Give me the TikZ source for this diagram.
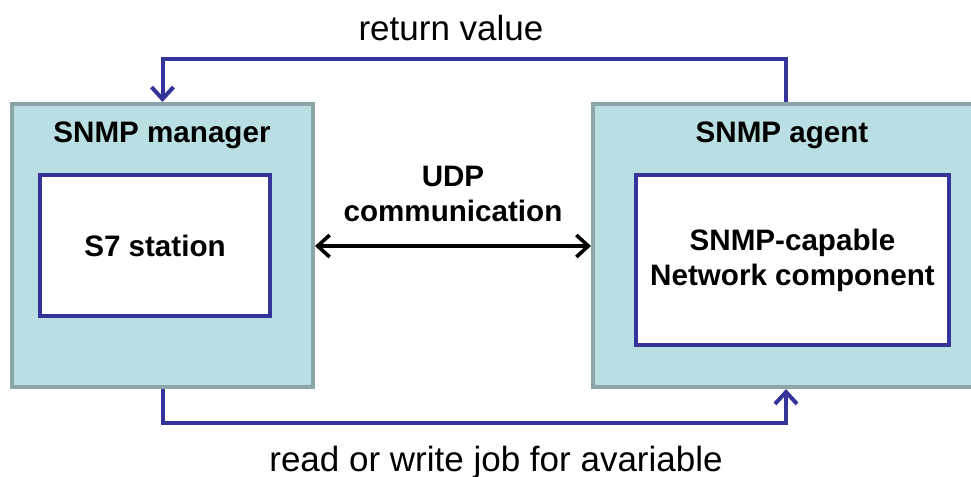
\documentclass[tikz,border=0pt]{standalone}
\usepackage{fontspec}
\setmainfont{Liberation Sans}
\usetikzlibrary{arrows.meta}
\definecolor{boxfill}{HTML}{B9DFE2}
\definecolor{boxline}{HTML}{8BA6A8}
\definecolor{navy}{HTML}{333399}
\newcommand{\boldsz}{\fontsize{14.8}{17.5}\selectfont\bfseries}
\newcommand{\plainsz}{\fontsize{17.5}{20}\selectfont}
\tikzset{
  outerbox/.style={draw=boxline,fill=boxfill,line width=2pt,minimum height=141.5pt},
  innerbox/.style={draw=navy,fill=white,line width=2pt,font=\boldsz,align=center},
  flow/.style={draw=navy,line width=2pt,-{Straight Barb[length=6pt,width=11pt,line width=2pt]}},
  udp/.style={draw=black,line width=1.8pt,{Straight Barb[length=6pt,width=11pt]}-{Straight Barb[length=6pt,width=11pt]}},
  title/.style={font=\boldsz,align=center},
  txt/.style={font=\plainsz,align=center}
}
\begin{document}
\begin{tikzpicture}[x=0.5pt,y=-0.5pt]
    \useasboundingbox (0,0) rectangle (971,477);

    % manager side
    \node[outerbox,minimum width=150.5pt] (mgr) at (162.5,245.5) {};
    \node[title] (mgrtitle) at (162,135) {SNMP manager};
    \node[innerbox,minimum width=115pt,minimum height=70.5pt] (s7) at (155,245.5) {S7 station};

    % agent side
    \node[outerbox,minimum width=196pt] (agt) at (789,245.5) {};
    \node[title] (agttitle) at (782,135) {SNMP agent};
    \node[innerbox,minimum width=156.5pt,minimum height=85pt] (net) at (792.5,260)
        {SNMP-capable\\Network component};

    % UDP link
    \node[title] (udplbl) at (453,194) {UDP\\communication};
    \draw[udp] (mgr.east |- 0,246) -- (agt.west |- 0,246);

    % return value
    \path[coordinate] (mgr.north) ++(0,-43) coordinate(rl)
                      (agt.north -| 786,0) coordinate(ra)
                      (ra) ++(0,-43) coordinate(rr);
    \draw[flow] (ra) -- (rr) -- (rl) -- (mgr.north);
    \node[txt] (retlbl) at (451,28) {return value};

    % read or write job
    \path[coordinate] (mgr.south) ++(0,34) coordinate(jl)
                      (agt.south -| 786,0) coordinate(ja)
                      (ja) ++(0,34) coordinate(jr);
    \draw[flow] (mgr.south) -- (jl) -- (jr) -- (ja);
    \node[txt] (joblbl) at (496,462) {read or write job for avariable};
\end{tikzpicture}
\end{document}
